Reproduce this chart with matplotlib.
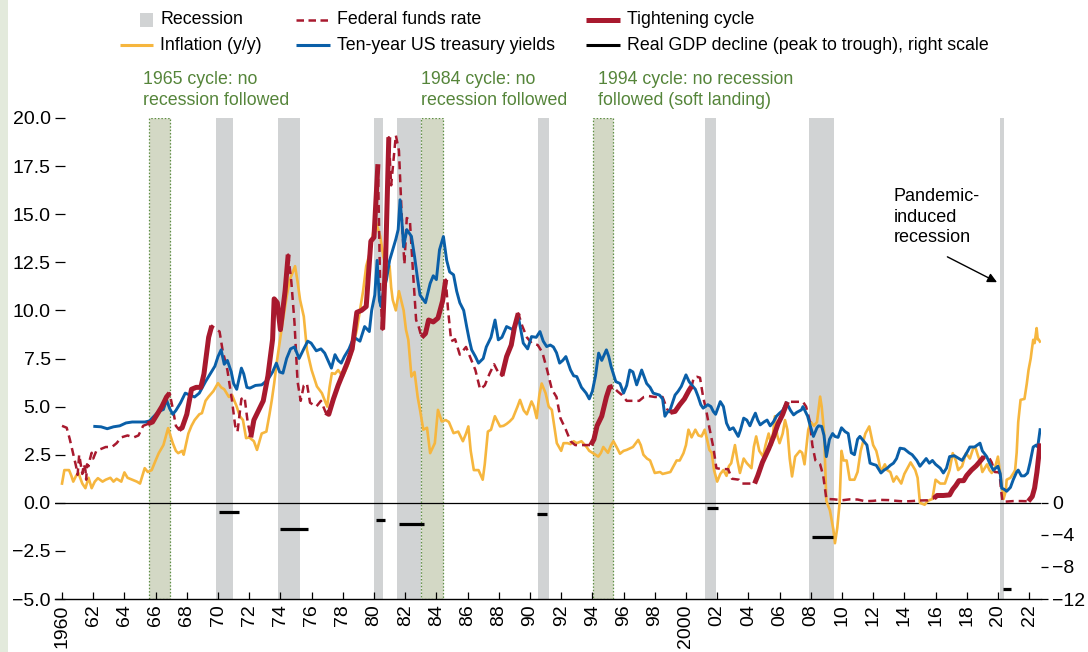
import numpy as np
import matplotlib.pyplot as plt
from matplotlib.lines import Line2D
from matplotlib.patches import Rectangle
from matplotlib.ticker import FuncFormatter

plt.rcParams['font.family'] = ['Liberation Sans Narrow', 'Liberation Sans', 'DejaVu Sans']

# ---- data (decimal year, percent) ----
fed_funds = [
    (1960.0, 4.0), (1960.3, 3.9), (1960.5, 3.3), (1960.7, 2.6), (1960.9, 1.9), (1961.0, 1.45),
    (1961.1, 2.5), (1961.2, 2.0), (1961.3, 1.5), (1961.4, 2.0), (1961.5, 1.7), (1961.55, 1.2),
    (1961.6, 2.0), (1961.7, 1.9), (1961.8, 2.3), (1961.9, 2.6), (1962.0, 2.3), (1962.2, 2.7),
    (1962.5, 2.8), (1962.8, 2.9), (1963.2, 2.9), (1963.5, 3.1), (1963.8, 3.4), (1964.2, 3.5),
    (1964.6, 3.4), (1964.9, 3.5), (1965.2, 4.0), (1965.5, 4.1), (1965.8, 4.2), (1966.1, 4.6),
    (1966.4, 5.0), (1966.7, 5.5), (1966.9, 5.7), (1967.1, 4.9), (1967.3, 4.0), (1967.5, 3.8),
    (1967.7, 3.9), (1968.0, 4.6), (1968.3, 5.9), (1968.6, 6.0), (1968.9, 6.0), (1969.1, 6.7),
    (1969.4, 8.6), (1969.6, 9.2), (1969.9, 9.0), (1970.1, 8.9), (1970.3, 7.9), (1970.6, 6.9),
    (1970.9, 5.3), (1971.1, 4.0), (1971.25, 3.7), (1971.5, 5.4), (1971.7, 5.5), (1971.9, 4.2),
    (1972.1, 3.4), (1972.3, 4.3), (1972.6, 4.8), (1972.9, 5.3), (1973.2, 6.6), (1973.5, 8.5),
    (1973.6, 10.6), (1973.8, 10.4), (1974.0, 9.0), (1974.3, 11.0), (1974.5, 12.9), (1974.7, 11.5),
    (1974.9, 9.4), (1975.1, 6.3), (1975.3, 5.3), (1975.5, 6.1), (1975.7, 6.2), (1975.9, 5.2),
    (1976.3, 5.0), (1976.6, 5.3), (1976.9, 4.7), (1977.1, 4.6), (1977.4, 5.4), (1977.7, 6.1),
    (1978.0, 6.7), (1978.3, 7.3), (1978.6, 8.0), (1978.9, 9.9), (1979.2, 10.0), (1979.5, 10.2),
    (1979.8, 13.6), (1980.0, 13.8), (1980.25, 17.6), (1980.4, 11.0), (1980.55, 9.0), (1980.75, 12.8),
    (1980.95, 19.0), (1981.1, 16.5), (1981.4, 19.1), (1981.6, 18.3), (1981.8, 14.5), (1981.95, 12.4),
    (1982.1, 14.8), (1982.3, 14.7), (1982.5, 12.0), (1982.7, 9.5), (1982.85, 9.2), (1983.05, 8.6),
    (1983.3, 8.8), (1983.5, 9.5), (1983.8, 9.4), (1984.1, 9.6), (1984.4, 10.5), (1984.6, 11.6),
    (1984.75, 10.0), (1984.95, 8.4), (1985.2, 8.5), (1985.5, 7.7), (1985.9, 8.1), (1986.2, 7.5),
    (1986.5, 6.9), (1986.8, 5.9), (1987.1, 6.1), (1987.4, 6.7), (1987.7, 7.2), (1987.95, 6.8),
    (1988.2, 6.6), (1988.5, 7.6), (1988.8, 8.2), (1989.0, 9.1), (1989.25, 9.85), (1989.5, 9.2),
    (1989.8, 8.6), (1990.1, 8.3), (1990.5, 8.2), (1990.8, 7.8), (1991.1, 6.9), (1991.4, 5.9),
    (1991.7, 5.5), (1991.95, 4.4), (1992.3, 3.8), (1992.6, 3.2), (1992.9, 3.0), (1993.4, 3.0),
    (1993.9, 3.0), (1994.1, 3.3), (1994.3, 4.0), (1994.6, 4.5), (1994.9, 5.5), (1995.1, 6.0),
    (1995.3, 6.05), (1995.6, 5.8), (1995.9, 5.6), (1996.2, 5.3), (1996.6, 5.3), (1997.0, 5.3),
    (1997.3, 5.5), (1997.6, 5.55), (1998.0, 5.5), (1998.5, 5.5), (1998.8, 4.85), (1999.0, 4.7),
    (1999.3, 4.75), (1999.6, 5.1), (1999.9, 5.4), (2000.2, 5.85), (2000.36, 6.05), (2000.5, 6.5),
    (2000.7, 6.55), (2000.9, 6.5), (2001.1, 5.5), (2001.3, 4.8), (2001.5, 3.9), (2001.75, 2.9),
    (2001.95, 1.8), (2002.3, 1.75), (2002.7, 1.75), (2002.95, 1.25), (2003.4, 1.2), (2003.6, 1.0),
    (2004.0, 1.0), (2004.4, 1.0), (2004.6, 1.4), (2004.9, 2.1), (2005.3, 2.8), (2005.6, 3.4),
    (2005.9, 4.1), (2006.2, 4.6), (2006.5, 5.25), (2006.9, 5.25), (2007.5, 5.25), (2007.7, 5.0),
    (2007.95, 4.2), (2008.1, 3.0), (2008.3, 2.2), (2008.6, 2.0), (2008.8, 1.4), (2009.0, 0.2),
    (2009.5, 0.18), (2010.0, 0.13), (2010.5, 0.18), (2011.0, 0.17), (2011.5, 0.08), (2012.0, 0.1),
    (2012.5, 0.15), (2013.0, 0.14), (2013.5, 0.1), (2014.0, 0.07), (2014.5, 0.09), (2015.0, 0.12),
    (2015.5, 0.13), (2015.9, 0.24), (2016.1, 0.38), (2016.5, 0.38), (2016.9, 0.41), (2017.1, 0.7),
    (2017.3, 0.9), (2017.5, 1.15), (2017.8, 1.15), (2018.0, 1.42), (2018.3, 1.7), (2018.6, 1.92),
    (2018.9, 2.2), (2019.1, 2.4), (2019.4, 2.4), (2019.6, 2.1), (2019.8, 1.6), (2020.1, 1.58),
    (2020.2, 0.65), (2020.3, 0.05), (2021.0, 0.09), (2021.5, 0.09), (2021.95, 0.08), (2022.2, 0.33),
    (2022.35, 0.77), (2022.5, 1.6), (2022.6, 2.33), (2022.7, 3.08),
]

# hiking phases, drawn over the funds rate
tight_start = [1965.5, 1967.5, 1972.1, 1976.9, 1980.55, 1983.05, 1988.2, 1993.9, 1999.0, 2004.4, 2015.9, 2021.95]
tight_end = [1966.9, 1969.6, 1974.5, 1980.25, 1980.95, 1984.6, 1989.25, 1995.3, 2000.36, 2006.5, 2019.1, 2022.7]

treasury_10y = [
    (1962.1, 3.97), (1962.5, 3.95), (1962.9, 3.85), (1963.3, 3.95), (1963.7, 4.0), (1964.1, 4.15),
    (1964.5, 4.2), (1964.9, 4.2), (1965.3, 4.2), (1965.6, 4.25), (1965.9, 4.5), (1966.2, 4.75),
    (1966.5, 4.85), (1966.7, 5.35), (1966.9, 4.9), (1967.1, 4.6), (1967.3, 4.8), (1967.6, 5.2),
    (1967.9, 5.7), (1968.2, 5.6), (1968.5, 5.5), (1968.8, 5.7), (1969.0, 6.0), (1969.2, 6.3),
    (1969.5, 6.7), (1969.8, 7.1), (1970.0, 7.6), (1970.2, 7.95), (1970.4, 7.2), (1970.6, 7.4),
    (1970.85, 6.8), (1971.0, 6.2), (1971.2, 5.9), (1971.5, 7.0), (1971.65, 6.7), (1971.85, 6.0),
    (1972.05, 5.96), (1972.4, 6.1), (1972.8, 6.13), (1973.2, 6.4), (1973.5, 6.8), (1973.74, 7.26),
    (1973.95, 6.8), (1974.16, 6.74), (1974.4, 7.5), (1974.65, 8.0), (1974.9, 8.1), (1975.2, 7.5),
    (1975.5, 8.0), (1975.75, 8.4), (1975.97, 8.3), (1976.3, 7.9), (1976.6, 8.0), (1976.84, 7.78),
    (1977.1, 7.3), (1977.27, 7.0), (1977.5, 7.7), (1977.7, 7.4), (1977.9, 7.26), (1978.1, 7.6),
    (1978.4, 8.0), (1978.6, 8.4), (1978.8, 8.56), (1979.1, 8.4), (1979.4, 9.16), (1979.7, 8.9),
    (1979.85, 10.0), (1980.05, 10.8), (1980.2, 12.6), (1980.35, 10.5), (1980.45, 10.2), (1980.6, 11.0),
    (1980.8, 11.6), (1981.0, 12.6), (1981.2, 13.15), (1981.4, 13.7), (1981.55, 14.2), (1981.67, 15.75),
    (1981.8, 14.5), (1981.9, 13.3), (1982.1, 14.2), (1982.4, 13.85), (1982.6, 12.8), (1982.8, 11.6),
    (1982.95, 10.8), (1983.3, 10.4), (1983.6, 11.4), (1983.8, 11.8), (1984.0, 11.6), (1984.2, 13.15),
    (1984.45, 13.84), (1984.66, 12.6), (1984.85, 12.0), (1985.1, 11.85), (1985.3, 11.0), (1985.5, 10.4),
    (1985.75, 10.0), (1985.94, 9.16), (1986.1, 8.5), (1986.26, 7.95), (1986.5, 7.6), (1986.7, 7.26),
    (1987.0, 7.5), (1987.2, 8.1), (1987.5, 8.6), (1987.76, 9.5), (1987.97, 8.47), (1988.2, 8.6),
    (1988.5, 9.16), (1988.9, 9.0), (1989.25, 9.68), (1989.57, 8.3), (1989.85, 8.0), (1990.1, 8.64),
    (1990.4, 8.6), (1990.64, 8.9), (1990.85, 8.4), (1991.07, 8.12), (1991.3, 8.2), (1991.5, 8.1),
    (1991.7, 7.8), (1991.9, 7.26), (1992.1, 7.4), (1992.3, 7.6), (1992.6, 6.9), (1992.8, 6.6),
    (1993.0, 6.56), (1993.3, 6.0), (1993.6, 5.7), (1993.8, 5.4), (1994.0, 5.8), (1994.2, 6.6),
    (1994.4, 7.78), (1994.6, 7.4), (1994.9, 7.95), (1995.05, 7.6), (1995.2, 7.08), (1995.5, 6.3),
    (1995.77, 6.2), (1996.0, 5.7), (1996.2, 6.1), (1996.4, 6.9), (1996.6, 6.8), (1996.84, 6.13),
    (1997.16, 6.9), (1997.48, 6.2), (1997.7, 6.0), (1997.9, 5.7), (1998.3, 5.6), (1998.5, 5.4),
    (1998.65, 4.5), (1998.8, 4.7), (1998.97, 4.8), (1999.3, 5.6), (1999.5, 5.8), (1999.7, 6.05),
    (2000.0, 6.65), (2000.2, 6.3), (2000.36, 6.13), (2000.6, 5.9), (2000.78, 5.52), (2000.95, 5.1),
    (2001.1, 4.92), (2001.4, 5.1), (2001.6, 5.0), (2001.75, 4.75), (2001.9, 4.6), (2002.2, 5.26),
    (2002.4, 5.0), (2002.6, 4.14), (2002.8, 3.8), (2003.03, 3.9), (2003.35, 3.45), (2003.5, 3.8),
    (2003.7, 4.4), (2003.9, 4.3), (2004.1, 4.0), (2004.3, 4.4), (2004.45, 4.66), (2004.6, 4.3),
    (2004.76, 4.05), (2005.0, 4.2), (2005.2, 4.3), (2005.4, 4.0), (2005.6, 4.2), (2005.8, 4.5),
    (2006.0, 4.66), (2006.2, 4.8), (2006.45, 5.2), (2006.7, 4.8), (2006.9, 4.57), (2007.1, 4.7),
    (2007.4, 4.83), (2007.5, 5.0), (2007.8, 4.5), (2007.95, 4.05), (2008.17, 3.45), (2008.4, 3.9),
    (2008.5, 4.0), (2008.7, 3.97), (2008.85, 3.5), (2009.0, 2.4), (2009.2, 3.3), (2009.4, 3.6),
    (2009.55, 3.45), (2009.75, 3.4), (2009.97, 3.9), (2010.2, 3.7), (2010.4, 3.6), (2010.6, 2.6),
    (2010.8, 2.5), (2011.0, 3.3), (2011.15, 3.45), (2011.4, 3.2), (2011.6, 3.0), (2011.8, 2.06),
    (2012.0, 2.0), (2012.2, 1.95), (2012.5, 1.55), (2012.7, 1.7), (2012.9, 1.8), (2013.1, 1.95),
    (2013.3, 2.06), (2013.5, 2.3), (2013.72, 2.84), (2014.0, 2.8), (2014.3, 2.6), (2014.5, 2.5),
    (2014.8, 2.2), (2015.0, 1.9), (2015.2, 2.1), (2015.4, 2.3), (2015.6, 2.06), (2015.8, 2.2),
    (2016.0, 2.0), (2016.3, 1.8), (2016.5, 1.55), (2016.7, 1.8), (2016.9, 2.4), (2017.2, 2.45),
    (2017.5, 2.3), (2017.7, 2.2), (2018.0, 2.6), (2018.2, 2.9), (2018.5, 2.9), (2018.85, 3.1),
    (2019.0, 2.7), (2019.28, 2.4), (2019.5, 2.0), (2019.7, 1.7), (2019.85, 1.8), (2020.0, 1.9),
    (2020.15, 1.5), (2020.24, 0.76), (2020.4, 0.7), (2020.56, 0.6), (2020.8, 0.8), (2020.98, 1.2),
    (2021.2, 1.6), (2021.3, 1.7), (2021.5, 1.4), (2021.7, 1.4), (2021.9, 1.55), (2022.05, 2.06),
    (2022.26, 2.9), (2022.45, 3.0), (2022.55, 2.9), (2022.7, 3.8),
]

inflation = [
    (1960.0, 1.0), (1960.15, 1.7), (1960.45, 1.7), (1960.6, 1.4), (1960.72, 1.1), (1960.9, 1.4),
    (1961.05, 1.55), (1961.3, 1.0), (1961.5, 0.76), (1961.7, 1.3), (1961.9, 0.76), (1962.1, 1.1),
    (1962.3, 1.28), (1962.6, 1.1), (1962.8, 1.2), (1963.1, 1.3), (1963.3, 1.1), (1963.5, 1.25),
    (1963.8, 1.1), (1964.0, 1.58), (1964.2, 1.3), (1964.5, 1.2), (1964.8, 1.1), (1965.0, 1.0),
    (1965.3, 1.8), (1965.5, 1.6), (1965.75, 1.7), (1966.0, 2.2), (1966.2, 2.58), (1966.5, 3.0),
    (1966.8, 3.88), (1967.1, 3.1), (1967.3, 2.7), (1967.45, 2.58), (1967.7, 2.7), (1967.8, 2.5),
    (1968.1, 3.6), (1968.3, 4.0), (1968.5, 4.3), (1968.8, 4.6), (1968.97, 4.66), (1969.2, 5.3),
    (1969.4, 5.52), (1969.7, 5.8), (1970.0, 6.22), (1970.2, 6.0), (1970.4, 5.9), (1970.7, 5.5),
    (1970.9, 5.6), (1971.2, 5.0), (1971.4, 4.5), (1971.6, 4.3), (1971.8, 3.36), (1972.0, 3.4),
    (1972.3, 3.2), (1972.5, 2.75), (1972.8, 3.6), (1973.1, 3.7), (1973.3, 4.6), (1973.45, 5.35),
    (1973.6, 6.2), (1973.76, 7.26), (1973.95, 8.3), (1974.1, 9.16), (1974.4, 10.7), (1974.6, 11.6),
    (1974.8, 12.0), (1974.94, 12.3), (1975.1, 11.5), (1975.26, 10.55), (1975.5, 9.68), (1975.7, 7.95),
    (1976.0, 6.9), (1976.34, 6.05), (1976.66, 5.7), (1977.0, 5.0), (1977.15, 6.0), (1977.3, 6.74),
    (1977.5, 6.7), (1977.7, 6.9), (1978.0, 6.56), (1978.3, 7.1), (1978.5, 7.6), (1978.7, 8.3),
    (1978.9, 9.0), (1979.1, 10.0), (1979.3, 11.0), (1979.5, 12.3), (1979.7, 12.9), (1979.85, 13.5),
    (1980.06, 14.7), (1980.2, 14.4), (1980.4, 13.84), (1980.6, 12.8), (1980.8, 12.1), (1981.0, 12.3),
    (1981.1, 11.2), (1981.2, 10.55), (1981.4, 10.0), (1981.6, 11.0), (1981.9, 10.0), (1982.05, 9.0),
    (1982.2, 8.47), (1982.4, 6.56), (1982.6, 6.8), (1982.8, 5.5), (1982.95, 4.83), (1983.16, 3.8),
    (1983.4, 3.9), (1983.6, 2.58), (1983.9, 3.1), (1984.1, 4.83), (1984.34, 4.23), (1984.6, 4.3),
    (1984.8, 4.2), (1985.1, 3.62), (1985.4, 3.7), (1985.7, 3.2), (1985.9, 3.6), (1986.05, 3.97),
    (1986.2, 2.7), (1986.4, 1.7), (1986.7, 1.7), (1986.97, 1.2), (1987.1, 2.0), (1987.3, 3.7),
    (1987.5, 3.8), (1987.75, 4.5), (1988.08, 3.97), (1988.3, 4.0), (1988.5, 4.1), (1988.7, 4.23),
    (1988.9, 4.4), (1989.2, 5.0), (1989.36, 5.35), (1989.6, 4.8), (1989.8, 4.6), (1990.1, 5.27),
    (1990.25, 5.0), (1990.43, 4.4), (1990.6, 5.6), (1990.75, 6.2), (1991.0, 5.7), (1991.2, 5.0),
    (1991.4, 4.83), (1991.72, 3.1), (1992.0, 2.7), (1992.15, 3.1), (1992.4, 3.1), (1992.6, 3.05),
    (1992.8, 3.2), (1993.0, 3.1), (1993.3, 3.2), (1993.63, 2.9), (1993.8, 2.7), (1994.0, 2.6),
    (1994.2, 2.5), (1994.38, 2.4), (1994.55, 2.6), (1994.7, 2.9), (1995.0, 2.6), (1995.2, 3.0),
    (1995.35, 3.2), (1995.55, 2.9), (1995.77, 2.55), (1996.0, 2.7), (1996.2, 2.75), (1996.6, 2.9),
    (1996.94, 3.27), (1997.1, 3.0), (1997.27, 2.5), (1997.5, 2.3), (1997.7, 2.2), (1998.0, 1.55),
    (1998.34, 1.6), (1998.5, 1.5), (1998.76, 1.55), (1999.0, 1.6), (1999.2, 1.9), (1999.4, 2.2),
    (1999.6, 2.2), (1999.84, 2.58), (2000.0, 3.0), (2000.16, 3.8), (2000.36, 3.4), (2000.6, 3.8),
    (2000.8, 3.5), (2001.0, 3.45), (2001.2, 3.8), (2001.35, 3.3), (2001.5, 2.75), (2001.65, 2.6),
    (2001.8, 1.7), (2002.0, 1.1), (2002.2, 1.5), (2002.4, 1.7), (2002.6, 1.4), (2002.75, 1.9),
    (2002.9, 2.06), (2003.14, 3.0), (2003.3, 2.2), (2003.46, 1.55), (2003.7, 2.3), (2003.9, 2.06),
    (2004.2, 1.8), (2004.35, 2.9), (2004.5, 3.45), (2004.7, 2.7), (2004.95, 2.4), (2005.1, 3.0),
    (2005.3, 3.6), (2005.5, 3.0), (2005.7, 4.5), (2005.85, 3.5), (2006.0, 3.1), (2006.2, 3.6),
    (2006.35, 4.3), (2006.5, 3.8), (2006.65, 2.3), (2006.8, 1.37), (2007.0, 2.4), (2007.3, 2.7),
    (2007.45, 2.6), (2007.6, 2.0), (2007.84, 3.8), (2008.0, 4.2), (2008.2, 4.0), (2008.4, 4.2),
    (2008.6, 5.52), (2008.7, 5.0), (2008.85, 3.7), (2009.0, 0.1), (2009.23, -0.4), (2009.45, -1.4),
    (2009.55, -2.1), (2009.7, -1.3), (2009.85, 0.0), (2009.97, 2.7), (2010.1, 2.2), (2010.3, 2.2),
    (2010.5, 1.2), (2010.8, 1.2), (2011.0, 1.6), (2011.2, 2.7), (2011.5, 3.6), (2011.75, 3.97),
    (2012.0, 3.0), (2012.2, 2.7), (2012.35, 2.2), (2012.5, 1.6), (2012.75, 2.0), (2012.9, 1.7),
    (2013.1, 1.6), (2013.3, 1.1), (2013.5, 1.37), (2013.8, 1.0), (2014.0, 1.5), (2014.4, 2.1),
    (2014.7, 1.7), (2014.85, 1.3), (2015.0, 0.0), (2015.3, -0.1), (2015.5, 0.1), (2015.8, 0.2),
    (2016.0, 1.2), (2016.3, 1.0), (2016.6, 1.0), (2016.9, 1.7), (2017.1, 2.58), (2017.3, 2.2),
    (2017.45, 1.7), (2017.7, 1.9), (2017.95, 2.58), (2018.2, 2.3), (2018.4, 2.8), (2018.55, 2.9),
    (2018.7, 2.5), (2018.9, 2.0), (2019.0, 1.6), (2019.3, 2.0), (2019.45, 1.7), (2019.6, 1.55),
    (2019.8, 1.8), (2020.0, 2.4), (2020.15, 1.5), (2020.36, 0.2), (2020.5, 0.6), (2020.56, 1.2),
    (2020.8, 1.3), (2021.0, 1.55), (2021.1, 1.7), (2021.2, 2.6), (2021.3, 4.2), (2021.45, 5.35),
    (2021.7, 5.4), (2021.85, 6.2), (2021.96, 6.9), (2022.1, 7.5), (2022.17, 7.95), (2022.26, 8.47),
    (2022.35, 8.3), (2022.48, 9.08), (2022.55, 8.5), (2022.6, 8.5), (2022.69, 8.38),
]

recession_start = [1969.9, 1973.85, 1980.0, 1981.5, 1990.5, 2001.2, 2007.9, 2020.1]
recession_end = [1970.95, 1975.25, 1980.55, 1983.0, 1991.2, 2001.9, 2009.5, 2020.4]

soft_start = [1965.6, 1983.0, 1994.05]
soft_end = [1966.95, 1984.45, 1995.3]
soft_notes = ["1965 cycle: no\nrecession followed",
              "1984 cycle: no\nrecession followed",
              "1994 cycle: no recession\nfollowed (soft landing)"]

# real GDP peak-to-trough declines, right scale
gdp_start = [1970.05, 1973.95, 1980.15, 1981.6, 1990.45, 2001.35, 2008.05, 2020.3]
gdp_end = [1971.35, 1975.75, 1980.7, 1983.2, 1991.1, 2002.05, 2009.45, 2020.85]
gdp_drop = [-1.1, -3.3, -2.2, -2.6, -1.4, -0.6, -4.3, -10.7]

RED = "#a8192e"
BLUE = "#0a5fa8"
YELLOW = "#f6b63e"
GREY = "#d1d3d4"
SOFT = "#d3d8c5"
GREEN_TXT = "#55853a"
TXT = 12.8

W, H = 1088, 652
fig = plt.figure(figsize=(W / 100, H / 100), dpi=100)
fig.patches.append(Rectangle((0, 0), 8 / W, 1, transform=fig.transFigure,
                             facecolor="#e3eadc", edgecolor="none", zorder=-5))

ax = fig.add_axes([55 / W, 1 - 599 / H, (1041 - 55) / W, (599 - 118) / H])
ax.set_xlim(1959.55, 2022.76)
ax.set_ylim(-5, 20)

for s, e in zip(recession_start, recession_end):
    ax.axvspan(s, e, facecolor=GREY, edgecolor="none", zorder=0)
for s, e in zip(soft_start, soft_end):
    ax.axvspan(s, e, facecolor=SOFT, edgecolor="#5f8f45", linestyle=(0, (1.2, 1.5)),
               linewidth=0.9, zorder=0.5)

ax.axhline(0, color="black", lw=0.9, zorder=1)

fed_t, fed_v = np.array(fed_funds).T
ten_t, ten_v = np.array(treasury_10y).T
inf_t, inf_v = np.array(inflation).T

ax.plot(inf_t, inf_v, color=YELLOW, lw=1.9, zorder=2)
ax.plot(fed_t, fed_v, color=RED, lw=1.8, dashes=(3.2, 2.0), zorder=3)
ax.plot(ten_t, ten_v, color=BLUE, lw=2.1, zorder=4)
for s, e in zip(tight_start, tight_end):
    m = (fed_t >= s - 1e-6) & (fed_t <= e + 1e-6)
    ax.plot(fed_t[m], fed_v[m], color=RED, lw=3.6, solid_capstyle="butt", zorder=5)

# right scale for the GDP declines
ax2 = ax.twinx()
ax2.set_ylim(-12, 48)
ax2.hlines(gdp_drop, gdp_start, gdp_end, color="black", lw=2.3, zorder=6)
ax2.set_yticks([0, -4, -8, -12])
ax2.yaxis.set_major_formatter(FuncFormatter(lambda v, p: f"{v:.0f}".replace("-", "\u2212")))
ax2.tick_params(axis="y", direction="out", length=5, width=0.9, pad=3, labelsize=14)

# axes styling
for a in (ax, ax2):
    for side in ("top", "left", "right"):
        a.spines[side].set_visible(False)
ax.spines["bottom"].set_linewidth(1.0)
ax2.spines["bottom"].set_visible(False)

ax.set_yticks(np.arange(-5, 20.1, 2.5))
ax.yaxis.set_major_formatter(FuncFormatter(lambda v, p: f"{v:.1f}".replace("-", "\u2212")))
ax.tick_params(axis="y", direction="in", length=7, width=0.9, pad=3, labelsize=14)

years = np.arange(1960, 2023, 2)
ax.set_xticks(years)
ax.set_xticklabels([str(y) if y % 100 == 0 or y == 1960 else f"{y % 100:02d}" for y in years],
                   rotation=90)
ax.tick_params(axis="x", direction="in", length=5, width=0.9, pad=4, labelsize=14)

# notes over the soft-landing episodes
for x, note in zip([1965.2, 1983.02, 1994.37], soft_notes):
    ax.text(x, 21.45, note, color=GREEN_TXT, fontsize=TXT, va="center", ha="left",
            linespacing=1.35, clip_on=False)

ax.text(2013.3, 14.85, "Pandemic-\ninduced\nrecession", fontsize=13, va="center", ha="left",
        linespacing=1.3)
ax.annotate("", xy=(2020.1, 11.4), xytext=(2016.6, 12.85),
            arrowprops=dict(arrowstyle="-|>", color="black", lw=1.0, mutation_scale=14))

# legend, laid out by hand
def fx(px):
    return px / W


def fy(py):
    return 1 - py / H


legend_rows = [
    [("square", GREY, "Recession", 140), ("dash", RED, "Federal funds rate", 296),
     ("thick", RED, "Tightening cycle", 586)],
    [("line", YELLOW, "Inflation (y/y)", 120), ("line", BLUE, "Ten-year US treasury yields", 296),
     ("line", "black", "Real GDP decline (peak to trough), right scale", 586)],
]
for row_y, row in zip([20, 45], legend_rows):
    for kind, color, label, x0 in row:
        if kind == "square":
            fig.patches.append(Rectangle((fx(140), fy(row_y + 7)), 13 / W, 14 / H,
                                         transform=fig.transFigure, facecolor=color, edgecolor="none"))
        else:
            lw = {"dash": 1.8, "thick": 3.6, "line": 2.2}[kind]
            ln = Line2D([fx(x0), fx(153 if x0 == 120 else x0 + 34)], [fy(row_y), fy(row_y)],
                        transform=fig.transFigure, color=color, lw=lw,
                        solid_capstyle="butt")
            if kind == "dash":
                ln.set_dashes((3.0, 1.8))
            fig.add_artist(ln)
        tx = 160 if x0 in (120, 140) else x0 + 41
        fig.text(fx(tx), fy(row_y), label, fontsize=TXT, va="center", ha="left")

fig.savefig("out.png", dpi=100)
